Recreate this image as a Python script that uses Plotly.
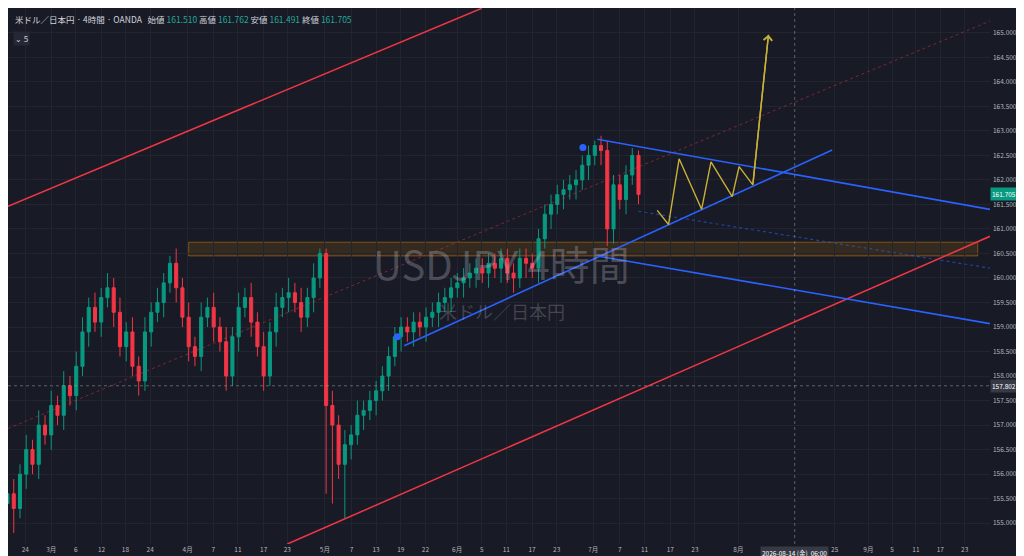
import plotly.graph_objects as go

# daily candles, index 0 = Feb 19 (weekdays only)
closes = [155.6, 155.3, 156.0, 156.5, 156.2, 157.0, 156.8, 157.4, 157.2, 157.8,
          157.6, 158.2, 158.9, 159.4, 159.1, 159.6, 159.8, 159.3, 158.6, 158.9,
          158.2, 157.9, 158.9, 159.3, 159.5, 159.9, 160.3, 159.8, 159.2, 158.6,
          158.4, 159.2, 159.4, 159.0, 158.7, 158.0, 158.8, 159.4, 159.6, 159.1,
          158.6, 158.0, 158.9, 159.4, 159.6, 159.7, 159.5, 159.2, 159.6, 160.0,
          160.5, 157.4, 157.0, 156.2, 156.6, 156.8, 157.2, 157.3, 157.5, 157.7,
          158.0, 158.4, 158.8, 159.0, 158.9, 159.1, 159.0, 159.2, 159.3, 159.5,
          159.6, 159.8, 159.9, 160.0, 160.1, 160.2, 160.1, 160.3, 160.2, 160.4,
          160.1, 160.0, 160.4, 160.3, 160.2, 160.8, 161.3, 161.5, 161.7, 161.8,
          161.9, 162.0, 162.3, 162.5, 162.7, 162.6, 161.0, 161.9, 161.6, 162.1,
          162.5, 161.705]
first_open = 155.4
wick_up = [0.2, 0.3, 0.2, 0.3, 0.2, 0.3, 0.2, 0.3, 0.2, 0.3,
           0.2, 0.3, 0.3, 0.2, 0.3, 0.2, 0.3, 0.2, 0.3, 0.2,
           0.3, 0.2, 0.3, 0.2, 0.3, 0.2, 0.15, 0.3, 0.2, 0.3,
           0.2, 0.3, 0.2, 0.3, 0.2, 0.3, 0.2, 0.3, 0.2, 0.3,
           0.2, 0.3, 0.2, 0.3, 0.2, 0.3, 0.2, 0.3, 0.2, 0.3,
           0.1, 0.1, 0.3, 0.2, 0.3, 0.2, 0.3, 0.2, 0.2, 0.2,
           0.2, 0.2, 0.2, 0.2, 0.2, 0.2, 0.2, 0.2, 0.2, 0.2,
           0.2, 0.2, 0.2, 0.2, 0.2, 0.2, 0.2, 0.2, 0.2, 0.2,
           0.2, 0.2, 0.2, 0.2, 0.2, 0.2, 0.2, 0.2, 0.2, 0.2,
           0.2, 0.2, 0.2, 0.2, 0.1, 0.2, 0.2, 0.2, 0.2, 0.2,
           0.15, 0.1]
wick_dn = [0.3, 0.5, 0.2, 0.3, 0.2, 0.3, 0.2, 0.3, 0.2, 0.3,
           0.2, 0.3, 0.2, 0.3, 0.2, 0.3, 0.2, 0.3, 0.2, 0.3,
           0.2, 0.3, 0.2, 0.3, 0.2, 0.3, 0.2, 0.3, 0.2, 0.3,
           0.2, 0.3, 0.2, 0.3, 0.2, 0.3, 0.2, 0.3, 0.2, 0.3,
           0.2, 0.3, 0.2, 0.3, 0.2, 0.3, 0.2, 0.3, 0.2, 0.3,
           0.2, 1.8, 1.6, 0.3, 1.1, 0.3, 0.2, 0.3, 0.2, 0.3,
           0.2, 0.3, 0.2, 0.3, 0.2, 0.3, 0.2, 0.3, 0.2, 0.3,
           0.2, 0.3, 0.2, 0.3, 0.2, 0.3, 0.2, 0.3, 0.2, 0.3,
           0.2, 0.3, 0.2, 0.3, 0.2, 0.3, 0.2, 0.3, 0.2, 0.3,
           0.2, 0.3, 0.2, 0.3, 0.2, 0.3, 0.35, 0.3, 0.2, 0.3,
           0.2, 0.2]

tick_idx = [2.86, 7.0, 10.92, 15.06, 18.88, 22.83, 28.83, 32.94, 36.89, 41.0, 44.79,
            50.79, 55.06, 59.0, 62.96, 66.9, 71.96, 75.9, 79.85, 83.96, 87.9,
            93.76, 98.02, 101.97, 106.08, 110.03, 116.98, 132.4, 137.8, 141.6,
            145.4, 149.3, 153.2]
tick_text = ["24", "3月", "6", "12", "18", "24", "4月", "7", "11", "17", "23",
             "5月", "7", "13", "19", "22", "6月", "5", "11", "17", "23",
             "7月", "7", "11", "17", "23", "8月", "25", "9月", "5", "11", "17", "23"]

# drawings (x = day index, y = price)
red_upper_x, red_upper_y = [0.08, 75.9], [161.46, 165.5]
red_lower_x, red_lower_y = [44.8, 157.26], [154.575, 160.85]
red_mid_x, red_mid_y = [0.08, 157.26], [156.93, 165.24]
support_x, support_y = [63.5, 132.0], [158.62, 162.61]
upper_desc_x, upper_desc_y = [94.4, 157.26], [162.83, 161.40]
lower_desc_x, lower_desc_y = [94.4, 157.26], [160.45, 159.07]
dotted_blue_x, dotted_blue_y = [101.0, 157.26], [161.36, 160.2]
zig_x = [104.0, 105.8, 107.5, 111.1, 112.6, 116.0, 117.1, 119.3, 121.8]
zig_y = [161.38, 161.09, 162.43, 161.40, 162.37, 161.66, 162.27, 161.90, 164.96]
dots_x, dots_y = [92.1, 62.4], [162.66, 158.8]
zone_x, zone_y = [29.0, 155.3], [160.45, 160.73]
last_price = 161.705
cross_price = 157.802
cross_idx = 126.0

opens = [first_open] + closes[:-1]
highs = [max(o, c) + w for o, c, w in zip(opens, closes, wick_up)]
lows = [min(o, c) - w for o, c, w in zip(opens, closes, wick_dn)]
x = list(range(len(closes)))

bg = "#181a25"
fig = go.Figure()

fig.add_shape(type="rect", x0=zone_x[0], x1=zone_x[1], y0=zone_y[0], y1=zone_y[1],
              fillcolor="rgba(255,152,0,0.13)", line=dict(color="rgba(255,152,0,0.4)", width=1),
              layer="below")

def line(xs, ys, color, width=1.5, dash=None):
    fig.add_trace(go.Scatter(x=xs, y=ys, mode="lines", hoverinfo="skip",
                             line=dict(color=color, width=width, dash=dash)))

line(red_mid_x, red_mid_y, "rgba(242,54,69,0.45)", 1, "dot")
line(dotted_blue_x, dotted_blue_y, "rgba(41,98,255,0.55)", 1.2, "dot")
line(red_upper_x, red_upper_y, "#f23645", 1.5)
line(red_lower_x, red_lower_y, "#f23645", 1.5)

fig.add_trace(go.Candlestick(
    x=x, open=opens, high=highs, low=lows, close=closes,
    increasing=dict(line=dict(color="#089981", width=1), fillcolor="#089981"),
    decreasing=dict(line=dict(color="#f23645", width=1), fillcolor="#f23645"),
    whiskerwidth=0, hoverinfo="skip"))

line(support_x, support_y, "#2962ff", 1.6)
line(upper_desc_x, upper_desc_y, "#2962ff", 1.6)
line(lower_desc_x, lower_desc_y, "#2962ff", 1.6)
line(zig_x, zig_y, "#c9b037", 1.4)
fig.add_trace(go.Scatter(x=dots_x, y=dots_y, mode="markers", hoverinfo="skip",
                         marker=dict(color="#2962ff", size=7)))

fig.add_annotation(x=zig_x[-1], y=zig_y[-1], ax=zig_x[-2], ay=zig_y[-2],
                   xref="x", yref="y", axref="x", ayref="y", text="",
                   showarrow=True, arrowhead=4, arrowsize=1.2, arrowwidth=1.4,
                   arrowcolor="#c9b037", standoff=0)

fig.add_shape(type="line", x0=cross_idx, x1=cross_idx, y0=0, y1=1, yref="paper",
              line=dict(color="rgba(180,180,190,0.45)", width=1, dash="dot"))
fig.add_shape(type="line", x0=0, x1=1, xref="paper", y0=cross_price, y1=cross_price,
              line=dict(color="rgba(180,180,190,0.45)", width=1, dash="dot"))

# watermark
fig.add_annotation(x=0.503, y=0.525, xref="paper", yref="paper", text="USDJPY 4時間",
                   showarrow=False, font=dict(size=40, color="rgba(200,200,210,0.28)",
                                              family="Noto Sans CJK JP"))
fig.add_annotation(x=0.503, y=0.435, xref="paper", yref="paper", text="米ドル／日本円",
                   showarrow=False, font=dict(size=18, color="rgba(200,200,210,0.25)",
                                              family="Noto Sans CJK JP"))

g = "<span style='color:#26a69a'>"
fig.add_annotation(x=0.005, y=0.995, xref="paper", yref="paper", xanchor="left", yanchor="top",
                   showarrow=False, align="left",
                   text="米ドル／日本円 · 4時間 · OANDA   始値 " + g + "161.510</span> 高値 " + g +
                        "161.762</span> 安値 " + g + "161.491</span> 終値 " + g + "161.705</span>",
                   font=dict(size=8.5, color="#d1d4dc", family="Noto Sans CJK JP"))
fig.add_annotation(x=0.005, y=0.958, xref="paper", yref="paper", xanchor="left", yanchor="top",
                   showarrow=False, text="⌄ 5", bgcolor="#252834",
                   font=dict(size=8, color="#d1d4dc"))

# price labels on axis
fig.add_annotation(x=1, y=last_price, xref="paper", yref="y", xanchor="left", showarrow=False,
                   text="161.705", bgcolor="#089981", font=dict(size=6.5, color="white"))
fig.add_annotation(x=1, y=cross_price, xref="paper", yref="y", xanchor="left", showarrow=False,
                   text="157.802", bgcolor="#363a45", font=dict(size=6.5, color="white"))
fig.add_annotation(x=cross_idx, y=-0.004, xref="x", yref="paper", yanchor="top", showarrow=False,
                   text="2026-08-14 (金)  06:00", bgcolor="#363a45",
                   font=dict(size=6.5, color="white", family="Noto Sans CJK JP"))

fig.update_layout(
    width=1024, height=556, showlegend=False,
    paper_bgcolor=bg, plot_bgcolor=bg,
    margin=dict(l=0, r=42, t=0, b=20),
    font=dict(family="Noto Sans CJK JP", color="#b2b5be", size=6.5),
    xaxis=dict(range=[0.08, 157.26], tickvals=tick_idx, ticktext=tick_text,
               showgrid=True, gridcolor="#22252f", zeroline=False,
               rangeslider=dict(visible=False), ticks="", fixedrange=True),
    yaxis=dict(range=[154.575, 165.506], side="right", dtick=0.5, tickformat=".3f",
               showgrid=True, gridcolor="#22252f", zeroline=False, ticks="",
               ticklabelstandoff=2),
)

fig.write_html("out.html")
